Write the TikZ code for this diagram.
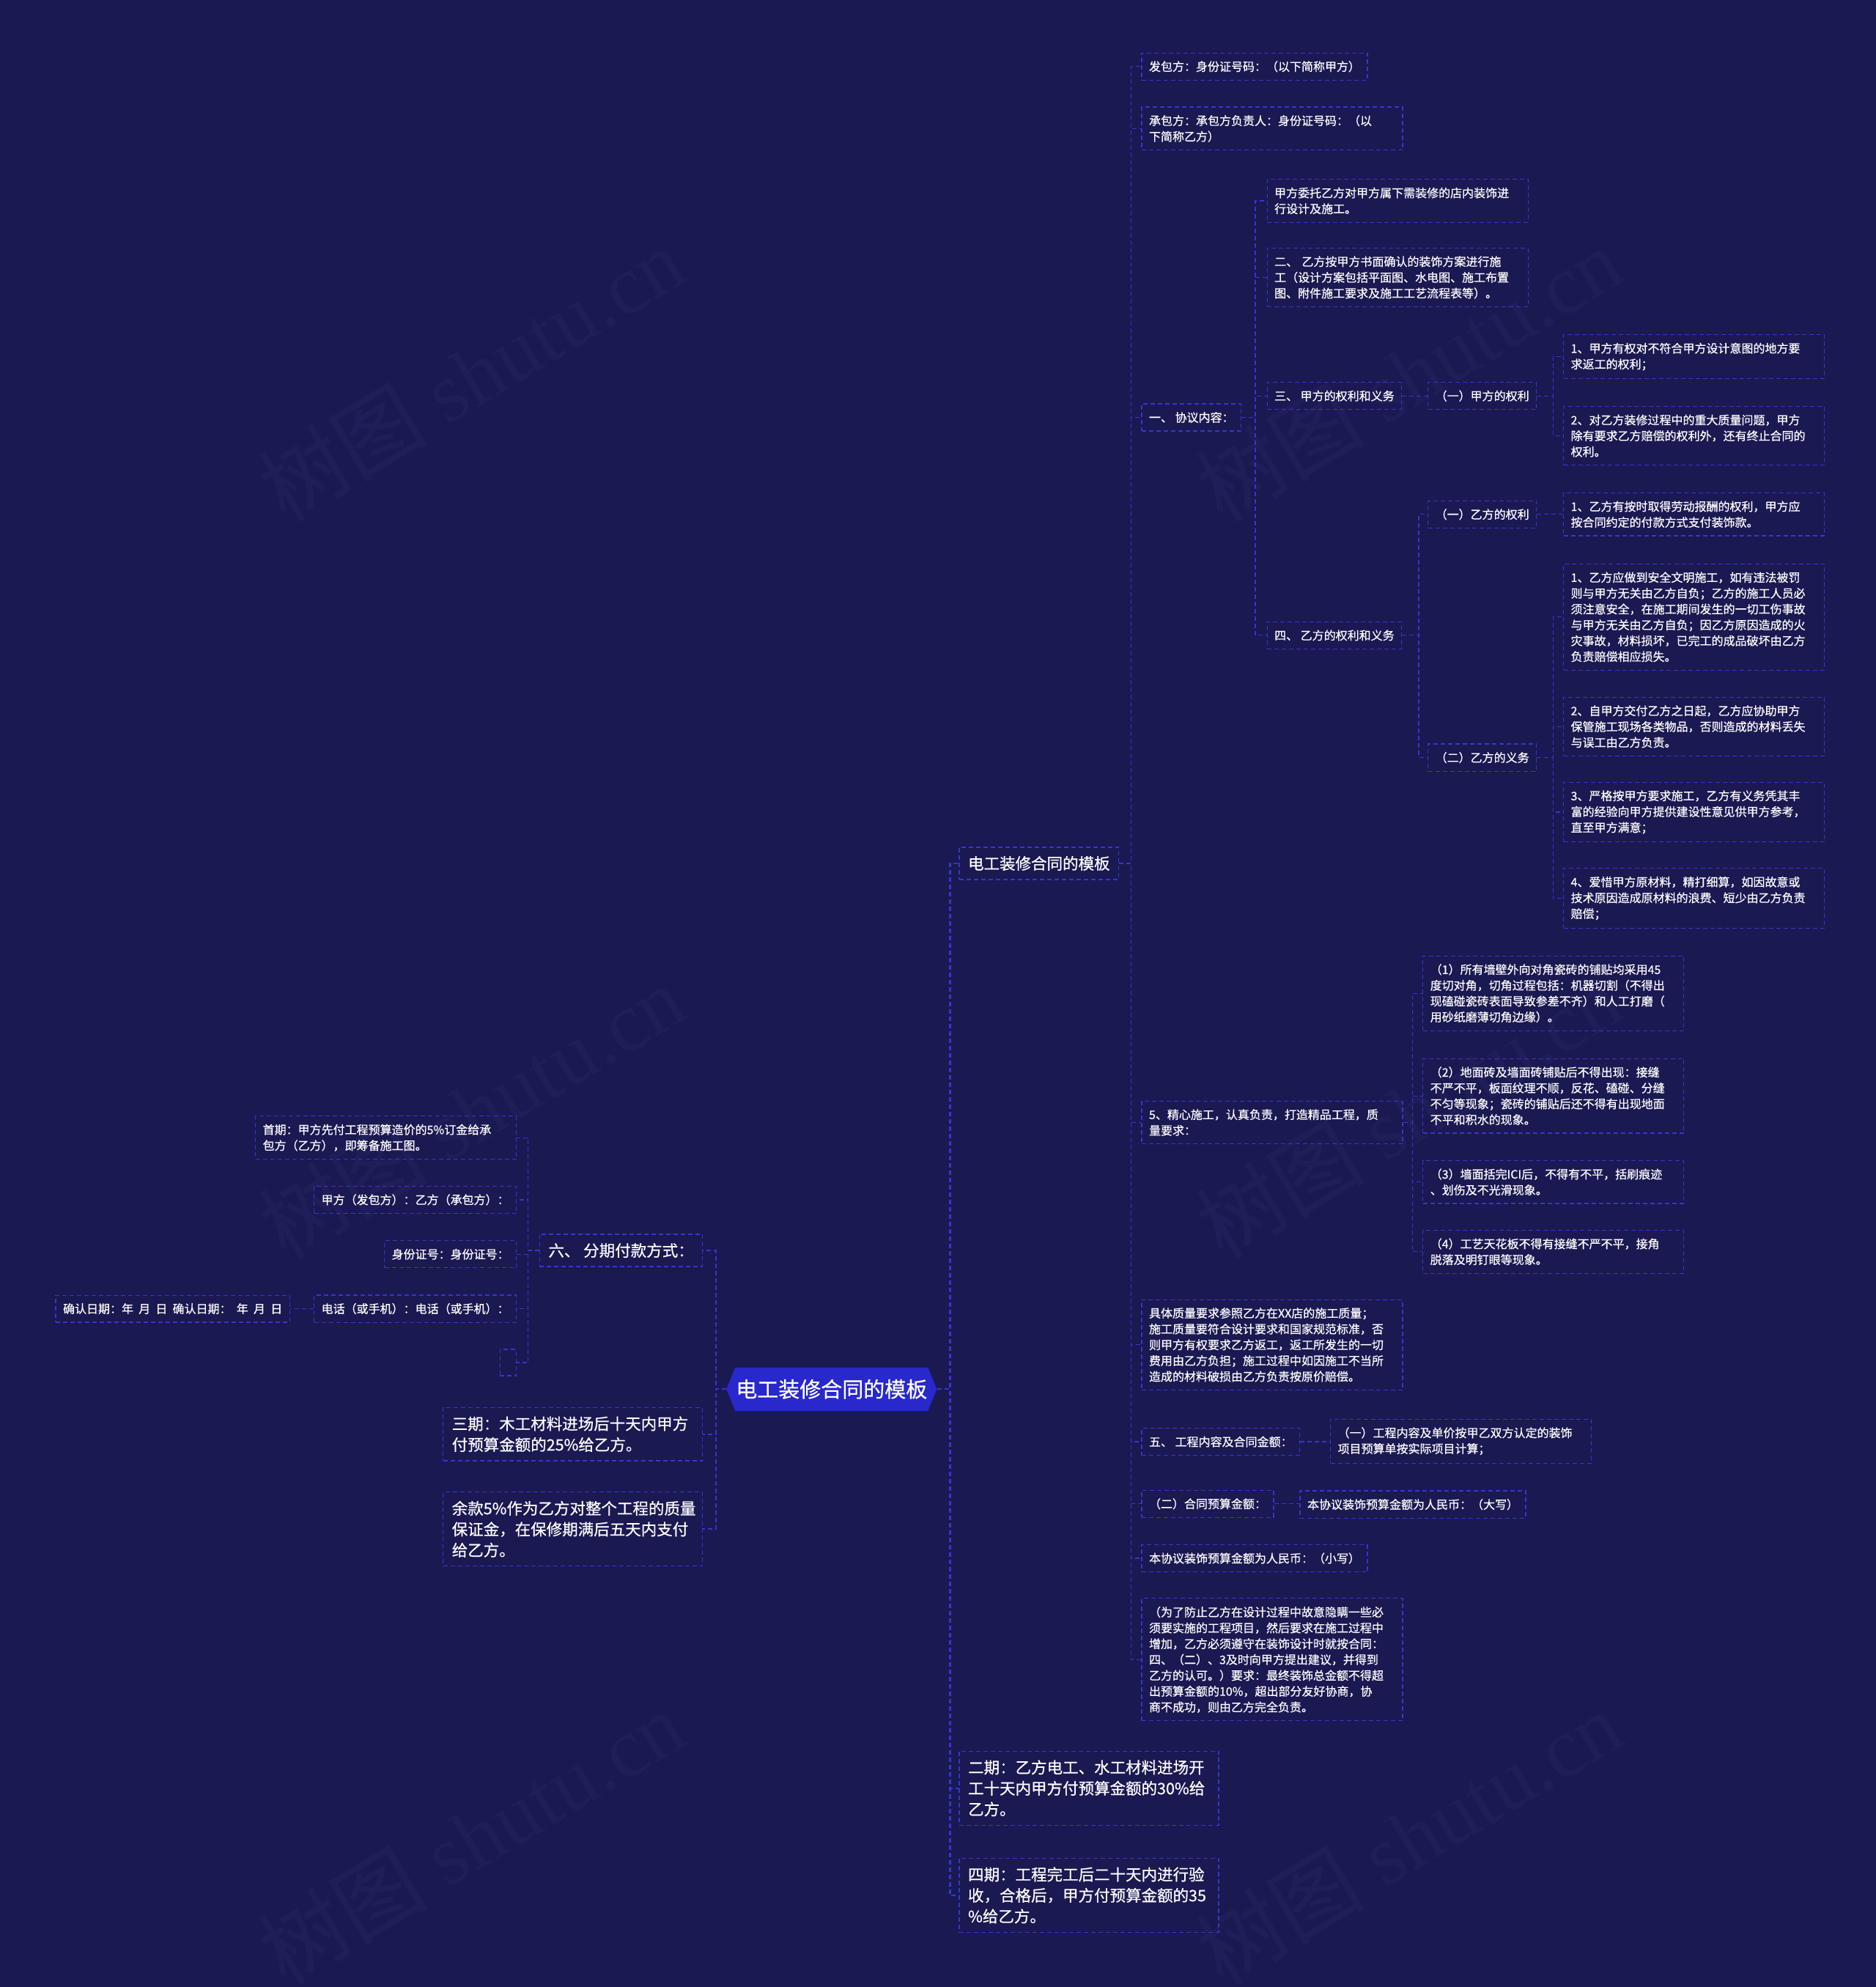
\documentclass[tikz,border=0pt]{standalone}
\usepackage{fontspec}
\newfontfamily\cjk[FakeBold=0.5]{Noto Sans CJK SC}
\newfontfamily\wmf{Liberation Serif}
\usetikzlibrary{shapes.symbols}
\definecolor{bgcol}{RGB}{26,25,82}
\definecolor{lnc}{RGB}{54,54,206}
\definecolor{rootc}{RGB}{40,40,205}
\definecolor{wmcol}{RGB}{31,30,89}
\begin{document}
\begin{tikzpicture}[x=1.72856pt,y=-1.72856pt,
 box/.style={draw=lnc, line width=1.2pt, dash pattern=on 6pt off 4pt, text=white, align=left, inner xsep=10pt, inner ysep=11pt},
 sm/.style={box, font=\cjk\fontsize{16}{21.6}\selectfont},
 smw/.style={sm, text width=336pt},
 bigbox/.style={box, font=\cjk\fontsize{21.5}{28.5}\selectfont, inner xsep=12pt, inner ysep=12pt},
 bigboxw/.style={bigbox, text width=330pt},
 rt/.style={shape=signal, signal to=east and west, signal pointer angle=135, fill=rootc, text=white, font=\cjk\fontsize{29}{34}\selectfont, inner xsep=1pt, inner ysep=16pt},
 conn/.style={draw=lnc, line width=1.2pt, dash pattern=on 6pt off 4pt},
 conn0/.style={conn, line width=2.2pt},
 R/.style={anchor=west}, Lf/.style={anchor=east},
 wm/.style={text=wmcol, font=\wmf\fontsize{115}{115}\selectfont, rotate=31}
]
\path[use as bounding box, fill=bgcol] (0,0) rectangle (1481,1568.4);
% watermarks
\node[wm] (w1) at (372,295) {{\cjk 树图} shutu.cn};
\node[wm] (w2) at (1112,295) {{\cjk 树图} shutu.cn};
\node[wm] (w3) at (372,877) {{\cjk 树图} shutu.cn};
\node[wm] (w4) at (1112,877) {{\cjk 树图} shutu.cn};
\node[wm] (w5) at (372,1450) {{\cjk 树图} shutu.cn};
\node[wm] (w6) at (1112,1450) {{\cjk 树图} shutu.cn};
% trunks
\coordinate (tR0) at (750,0);
\coordinate (tL0) at (565,0);
\coordinate (tA) at (893,0);
\coordinate (tB) at (991,0);
\coordinate (tC) at (1120,0);
\coordinate (tD) at (1226,0);
\coordinate (tE) at (1115,0);
\coordinate (tH) at (417,0);
% root
\node[rt] (root) at (656.5,1096.5) {电工装修合同的模板};
% level 1 right
\node[bigbox,R] (L1a) at (757,681.5) {电工装修合同的模板};
\node[bigboxw,R] (L1b) at (757,1411.5) {二期：乙方电工、水工材料进场开\\工十天内甲方付预算金额的30\%给\\乙方。};
\node[bigboxw,R] (L1c) at (757,1496) {四期：工程完工后二十天内进行验\\收，合格后，甲方付预算金额的35\\\%给乙方。};
% level 1 left
\node[bigbox,Lf] (g1) at (555,987) {六、 分期付款方式：};
\node[bigboxw,Lf] (g2) at (555,1132) {三期：木工材料进场后十天内甲方\\付预算金额的25\%给乙方。};
\node[bigboxw,Lf] (g3) at (555,1207) {余款5\%作为乙方对整个工程的质量\\保证金，在保修期满后五天内支付\\给乙方。};
% children of 六
\node[smw,Lf] (h1) at (408,898) {首期：甲方先付工程预算造价的5\%订金给承\\包方（乙方），即筹备施工图。};
\node[sm,Lf] (h2) at (408,947) {甲方（发包方）：乙方（承包方）：};
\node[sm,Lf] (h3) at (408,990) {身份证号：身份证号：};
\node[sm,Lf] (h4) at (408,1033) {电话（或手机）：电话（或手机）：};
\node[sm,Lf,minimum width=22.5pt,minimum height=36pt,inner xsep=0pt] (h5) at (408,1075.5) {};
\node[sm,Lf] (i1) at (229,1033) {确认日期：年\hspace{0.45em}月\hspace{0.45em}日\hspace{0.45em}确认日期：\hspace{0.45em}年\hspace{0.45em}月\hspace{0.45em}日};
% level 2 right
\node[sm,R] (a1) at (901,52.5) {发包方：身份证号码：（以下简称甲方）};
\node[smw,R] (a2) at (901,101.5) {承包方：承包方负责人：身份证号码：（以\\下简称乙方）};
\node[sm,R] (a3) at (901,329.5) {一、 协议内容：};
\node[smw,R] (a4) at (901,886) {5、精心施工，认真负责，打造精品工程，质\\量要求：};
\node[smw,R] (a5) at (901,1061.5) {具体质量要求参照乙方在XX店的施工质量；\\施工质量要符合设计要求和国家规范标准，否\\则甲方有权要求乙方返工，返工所发生的一切\\费用由乙方负担；施工过程中如因施工不当所\\造成的材料破损由乙方负责按原价赔偿。};
\node[sm,R] (a6) at (901,1138) {五、 工程内容及合同金额：};
\node[sm,R] (a7) at (901,1187) {（二）合同预算金额：};
\node[sm,R] (a8) at (901,1230) {本协议装饰预算金额为人民币：（小写）};
\node[smw,R] (a9) at (901,1310) {（为了防止乙方在设计过程中故意隐瞒一些必\\须要实施的工程项目，然后要求在施工过程中\\增加，乙方必须遵守在装饰设计时就按合同：\\四、（二）、3及时向甲方提出建议，并得到\\乙方的认可。）要求：最终装饰总金额不得超\\出预算金额的10\%，超出部分友好协商，协\\商不成功，则由乙方完全负责。};
% children of 一
\node[smw,R] (b1) at (1000,158.5) {甲方委托乙方对甲方属下需装修的店内装饰进\\行设计及施工。};
\node[smw,R] (b2) at (1000,219) {二、 乙方按甲方书面确认的装饰方案进行施\\工（设计方案包括平面图、水电图、施工布置\\图、附件施工要求及施工工艺流程表等）。};
\node[sm,R] (b3) at (1000,312.5) {三、 甲方的权利和义务};
\node[sm,R] (b4) at (1000,501.5) {四、 乙方的权利和义务};
\node[sm,R] (c1) at (1127,312.5) {（一）甲方的权利};
\node[smw,R] (d1) at (1234,281.5) {1、甲方有权对不符合甲方设计意图的地方要\\求返工的权利；};
\node[smw,R] (d2) at (1234,344) {2、对乙方装修过程中的重大质量问题，甲方\\除有要求乙方赔偿的权利外，还有终止合同的\\权利。};
\node[sm,R] (c2) at (1127,406) {（一）乙方的权利};
\node[sm,R] (c3) at (1127,598) {（二）乙方的义务};
\node[smw,R] (d3) at (1234,406) {1、乙方有按时取得劳动报酬的权利，甲方应\\按合同约定的付款方式支付装饰款。};
\node[smw,R] (d4) at (1234,487) {1、乙方应做到安全文明施工，如有违法被罚\\则与甲方无关由乙方自负；乙方的施工人员必\\须注意安全，在施工期间发生的一切工伤事故\\与甲方无关由乙方自负；因乙方原因造成的火\\灾事故，材料损坏，已完工的成品破坏由乙方\\负责赔偿相应损失。};
\node[smw,R] (d5) at (1234,573.5) {2、自甲方交付乙方之日起，乙方应协助甲方\\保管施工现场各类物品，否则造成的材料丢失\\与误工由乙方负责。};
\node[smw,R] (d6) at (1234,641) {3、严格按甲方要求施工，乙方有义务凭其丰\\富的经验向甲方提供建设性意见供甲方参考，\\直至甲方满意；};
\node[smw,R] (d7) at (1234,709) {4、爱惜甲方原材料，精打细算，如因故意或\\技术原因造成原材料的浪费、短少由乙方负责\\赔偿；};
% children of 5
\node[smw,R] (e1) at (1123,784) {（1）所有墙壁外向对角瓷砖的铺贴均采用45\\度切对角，切角过程包括：机器切割（不得出\\现磕碰瓷砖表面导致参差不齐）和人工打磨（\\用砂纸磨薄切角边缘）。};
\node[smw,R] (e2) at (1123,865) {（2）地面砖及墙面砖铺贴后不得出现：接缝\\不严不平，板面纹理不顺，反花、磕碰、分缝\\不匀等现象；瓷砖的铺贴后还不得有出现地面\\不平和积水的现象。};
\node[smw,R] (e3) at (1123,933) {（3）墙面括完ICI后，不得有不平，括刷痕迹\\、划伤及不光滑现象。};
\node[smw,R] (e4) at (1123,988) {（4）工艺天花板不得有接缝不严不平，接角\\脱落及明钉眼等现象。};
\node[smw,R] (f1) at (1050,1137.5) {（一）工程内容及单价按甲乙双方认定的装饰\\项目预算单按实际项目计算；};
\node[sm,R] (f2) at (1026,1187.5) {本协议装饰预算金额为人民币：（大写）};
% connectors
\foreach \c in {L1a,L1b,L1c} \draw[conn0] (root.east) -- (root.east -| tR0) |- (\c.west);
\foreach \c in {g1,g2,g3} \draw[conn0] (root.west) -- (root.west -| tL0) |- (\c.east);
\foreach \c in {a1,a2,a3,a4,a5,a6,a7,a8,a9} \draw[conn] (L1a.east) -- (L1a.east -| tA) |- (\c.west);
\foreach \c in {b1,b2,b3,b4} \draw[conn] (a3.east) -- (a3.east -| tB) |- (\c.west);
\draw[conn] (b3.east) -- (b3.east -| c1.west);
\foreach \c in {d1,d2} \draw[conn] (c1.east) -- (c1.east -| tD) |- (\c.west);
\foreach \c in {c2,c3} \draw[conn] (b4.east) -- (b4.east -| tC) |- (\c.west);
\draw[conn] (c2.east) -- (c2.east -| d3.west);
\foreach \c in {d4,d5,d6,d7} \draw[conn] (c3.east) -- (c3.east -| tD) |- (\c.west);
\foreach \c in {e1,e2,e3,e4} \draw[conn] (a4.east) -- (a4.east -| tE) |- (\c.west);
\draw[conn] (a6.east) -- (a6.east -| f1.west);
\draw[conn] (a7.east) -- (a7.east -| f2.west);
\foreach \c in {h1,h2,h3,h4,h5} \draw[conn] (g1.west) -- (g1.west -| tH) |- (\c.east);
\draw[conn] (h4.west) -- (h4.west -| i1.east);
\end{tikzpicture}
\end{document}
